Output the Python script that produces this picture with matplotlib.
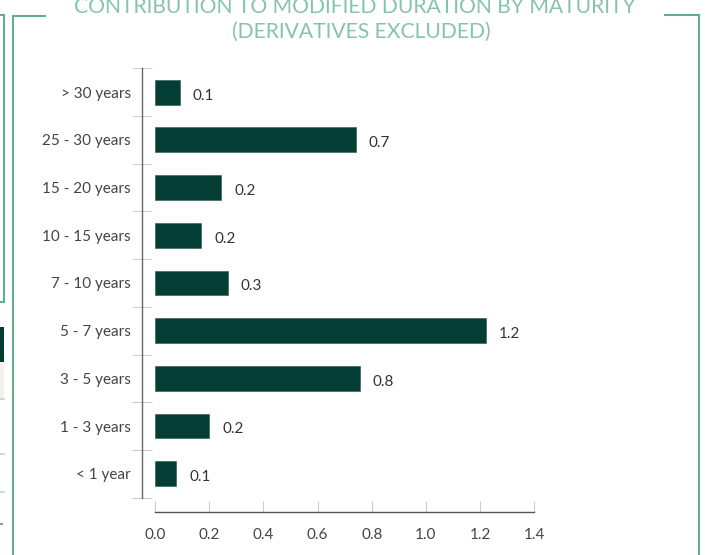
import matplotlib
matplotlib.use("Agg")
import matplotlib.pyplot as plt
from matplotlib.lines import Line2D
from matplotlib.patches import Rectangle

plt.rcParams['font.family'] = ['Lato', 'DejaVu Sans']

# ---- data ----
categories = ["< 1 year", "1 - 3 years", "3 - 5 years", "5 - 7 years", "7 - 10 years",
              "10 - 15 years", "15 - 20 years", "25 - 30 years", "> 30 years"]
values = [0.077, 0.200, 0.755, 1.222, 0.268, 0.171, 0.244, 0.741, 0.091]
xticks = [0.0, 0.2, 0.4, 0.6, 0.8, 1.0, 1.2, 1.4]
title_line1 = "CONTRIBUTION TO MODIFIED DURATION BY MATURITY"
title_line2 = "(DERIVATIVES EXCLUDED)"

W, H = 705, 555
fig = plt.figure(figsize=(W / 100, H / 100), dpi=100)
fig.patch.set_facecolor('white')

def fx(x):
    return x / W

def fy(y):
    return 1 - y / H

# ---- decoration overlay (frame brackets) ----
deco = fig.add_axes([0, 0, 1, 1], zorder=0)
deco.set_xlim(0, W)
deco.set_ylim(H, 0)
deco.axis('off')
fc = '#63ae91'
lw = 1.5
deco.add_line(Line2D([3.5, 3.5], [15, 302], color=fc, lw=lw))
deco.add_line(Line2D([0, 3.5], [302, 302], color=fc, lw=lw))
deco.add_line(Line2D([0, 3.5], [15, 15], color=fc, lw=lw))
deco.add_line(Line2D([12.7, 12.7], [16, 555], color=fc, lw=lw))
deco.add_line(Line2D([12.7, 45], [16, 16], color=fc, lw=lw))
deco.add_line(Line2D([665, 698.7], [15, 15], color=fc, lw=lw))
deco.add_line(Line2D([698.7, 698.7], [15, 555], color=fc, lw=lw))
deco.add_patch(Rectangle((0, 327), 3.5, 35, color='#033d33', lw=0))
deco.add_patch(Rectangle((0, 362), 3.5, 38, color='#f4f0ea', lw=0))
for yy in [399, 454, 492]:
    deco.add_line(Line2D([0, 3.5], [yy, yy], color='#b9d9c8', lw=1.2))
deco.add_line(Line2D([0, 2], [524, 524], color='#999999', lw=1.5))

# ---- title ----
tc = '#85c4ab'
fig.text(fx(355), fy(13.3), title_line1, ha='center', va='baseline',
         fontsize=15.2, color=tc, fontweight='normal')
fig.text(fx(361), fy(37.5), title_line2, ha='center', va='baseline',
         fontsize=15.2, color=tc, fontweight='normal')

# ---- chart ----
left, right, top, bottom = 155, 534.3, 68.3, 497.6
ax = fig.add_axes([fx(left), fy(bottom), fx(right - left), (bottom - top) / H], zorder=1)
ax.set_facecolor('none')

ypos = list(range(len(categories)))
bar_color = '#033d33'
ax.barh(ypos, values, height=0.52, color=bar_color, edgecolor='#2a5a50', linewidth=0.4)

for y, v in zip(ypos, values):
    ax.annotate(f"{v:.1f}", xy=(v, y), xytext=(9.5, -5.3), textcoords='offset points',
                ha='left', va='baseline', fontsize=11, color='#333333')

ax.set_xlim(0, 1.4)
ax.set_ylim(-0.5, len(categories) - 0.5)

for s in ['top', 'right']:
    ax.spines[s].set_visible(False)
ax.spines['left'].set_position(('outward', 9.4))
ax.spines['left'].set_color('#666666')
ax.spines['left'].set_linewidth(1.0)
ax.spines['bottom'].set_position(('outward', 10.4))
ax.spines['bottom'].set_color('#555555')
ax.spines['bottom'].set_linewidth(1.0)

ax.set_xticks(xticks)
ax.set_xticklabels([f"{t:.1f}" for t in xticks])
ax.tick_params(axis='x', direction='in', length=8, width=0.8, color='#cccccc',
               pad=11.5, labelsize=11, labelcolor='#444444')

ax.set_yticks([i - 0.5 for i in range(len(categories) + 1)])
ax.set_yticklabels([])
ax.tick_params(axis='y', which='major', direction='inout', length=14.4, width=0.8,
               color='#cccccc')
ax.set_yticks(ypos, minor=True)
ax.set_yticklabels(categories, minor=True, va='center_baseline')
ax.tick_params(axis='y', which='minor', length=0, pad=8, labelsize=11,
               labelcolor='#444444')

fig.savefig('out.png', dpi=100)
